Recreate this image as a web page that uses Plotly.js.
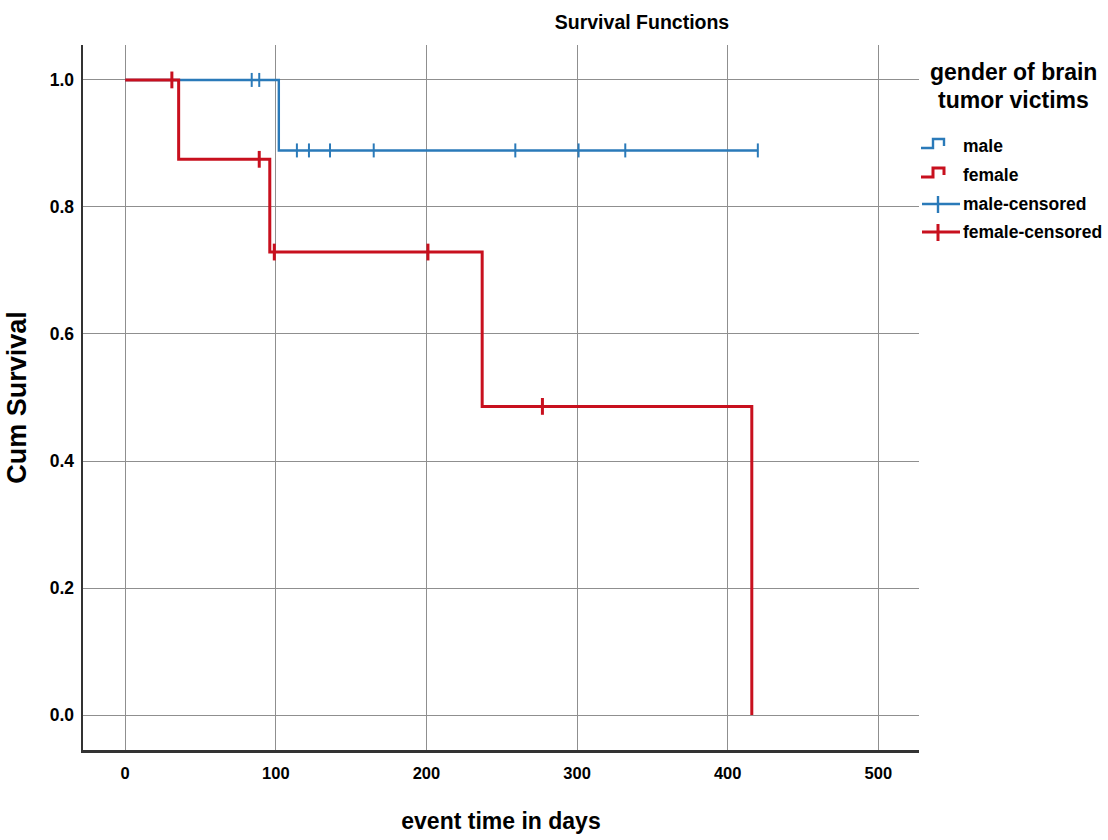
<!DOCTYPE html>
<html>
<head>
<meta charset="utf-8">
<script src="https://cdn.plot.ly/plotly-3.0.1.min.js"></script>
<style>html,body{margin:0;padding:0;background:#fff;}#chart{width:1108px;height:840px;}</style>
</head>
<body>
<div id="chart"></div>
<script>
// Kaplan-Meier step data (event times in days, cumulative survival)
const maleTime = [0, 102, 420];
const maleSurv = [1.0, 0.889, 0.889];
const femaleTime = [0, 35.5, 96, 237, 416];
const femaleSurv = [1.0, 0.875, 0.729, 0.486, 0.0];
// censored observations
const maleCensTime = [84, 89, 114, 122, 136, 165, 259, 301, 332, 420];
const maleCensSurv = [1.0, 1.0, 0.889, 0.889, 0.889, 0.889, 0.889, 0.889, 0.889, 0.889];
const femaleCensTime = [31, 89, 99, 201, 277];
const femaleCensSurv = [1.0, 0.875, 0.729, 0.729, 0.486];
const xTicks = [0, 100, 200, 300, 400, 500];
const yTicks = [0.0, 0.2, 0.4, 0.6, 0.8, 1.0];
const legendTitleLines = ["gender of brain", "tumor victims"];
const legendLabels = ["male", "female", "male-censored", "female-censored"];

const BLUE = "#2a7ab9";
const RED = "#c8101e";
const FONT = '"Liberation Sans Narrow", "Arial Narrow", "Liberation Sans", Arial, sans-serif';

const traces = [
  {x: maleTime, y: maleSurv, mode: "lines", line: {shape: "hv", color: BLUE, width: 2.4}, showlegend: false, hoverinfo: "skip"},
  {x: femaleTime, y: femaleSurv, mode: "lines", line: {shape: "hv", color: RED, width: 3}, showlegend: false, hoverinfo: "skip"},
  {x: maleCensTime, y: maleCensSurv, mode: "markers", marker: {symbol: "line-ns", size: 10, line: {color: BLUE, width: 2}}, showlegend: false, hoverinfo: "skip"},
  {x: femaleCensTime, y: femaleCensSurv, mode: "markers", marker: {symbol: "line-ns", size: 12, line: {color: RED, width: 3}}, showlegend: false, hoverinfo: "skip"}
];

// plot area in pixels: left 83, right 919, top 45, bottom 750
const L = 83, R = 919, T = 45, B = 750;
const px = v => (v - L) / (R - L);
const py = v => (B - v) / (B - T);

const shapes = [];
const annotations = [];
// legend title (two lines)
const titleY = [72, 100];
legendTitleLines.forEach((t, i) => {
  annotations.push({text: "<b>" + t + "</b>", xref: "paper", yref: "paper", x: px(1013), y: py(titleY[i]),
    xanchor: "center", yanchor: "middle", showarrow: false,
    font: {family: FONT, size: 23, color: "#000"}});
});
const itemY = [146, 175, 204, 232];
const itemCol = [BLUE, RED, BLUE, RED];
legendLabels.forEach((lab, i) => {
  const y = itemY[i];
  annotations.push({text: "<b>" + lab + "</b>", xref: "paper", yref: "paper", x: px(961), y: py(y),
    xanchor: "left", yanchor: "middle", showarrow: false, font: {family: FONT, size: 17.5, color: "#000"}});
  const w = (i % 2 === 0) ? 2.4 : 3;
  if (i < 2) {
    const p = `M ${px(921)},${py(y + 2)} L ${px(933)},${py(y + 2)} L ${px(933)},${py(y - 7)} L ${px(944)},${py(y - 7)} L ${px(944)},${py(y)}`;
    shapes.push({type: "path", xref: "paper", yref: "paper", path: p, line: {color: itemCol[i], width: w}});
  } else {
    shapes.push({type: "line", xref: "paper", yref: "paper", x0: px(922), x1: px(960), y0: py(y), y1: py(y), line: {color: itemCol[i], width: w}});
    shapes.push({type: "line", xref: "paper", yref: "paper", x0: px(938), x1: px(938), y0: py(y - 8), y1: py(y + 9), line: {color: itemCol[i], width: w}});
  }
});

const layout = {
  width: 1108, height: 840,
  margin: {l: L, r: 1108 - R, t: T, b: 840 - B, pad: 0},
  paper_bgcolor: "#fff", plot_bgcolor: "#fff",
  font: {family: FONT, color: "#000"},
  title: {text: "<b>Survival Functions</b>", x: 642 / 1108, xref: "container", xanchor: "center",
    y: 1 - 22 / 840, yref: "container", yanchor: "middle", font: {family: FONT, size: 19.5, color: "#000"}},
  xaxis: {
    range: [-28, 527], tickvals: xTicks, ticktext: xTicks.map(v => "<b>" + v + "</b>"),
    showgrid: true, gridcolor: "#8f8f8f", gridwidth: 1, zeroline: false,
    showline: true, linecolor: "#333", linewidth: 2.5, ticks: "", ticklabelstandoff: 7,
    tickfont: {family: FONT, size: 16.5, color: "#000"},
    title: {text: "<b>event time in days</b>", font: {family: FONT, size: 23, color: "#000"}, standoff: 32}
  },
  yaxis: {
    range: [-0.055, 1.055], tickvals: yTicks, ticktext: yTicks.map(v => "<b>" + v.toFixed(1) + "</b>"),
    showgrid: true, gridcolor: "#8f8f8f", gridwidth: 1, zeroline: false,
    showline: true, linecolor: "#333", linewidth: 2.5, ticks: "", ticklabelstandoff: 3,
    tickfont: {family: FONT, size: 17.5, color: "#000"},
    title: {text: "<b>Cum Survival</b>", font: {family: FONT, size: 27, color: "#000"}, standoff: 15}
  },
  showlegend: false,
  shapes: shapes,
  annotations: annotations
};

Plotly.newPlot("chart", traces, layout, {displayModeBar: false, staticPlot: true});
</script>
</body>
</html>
